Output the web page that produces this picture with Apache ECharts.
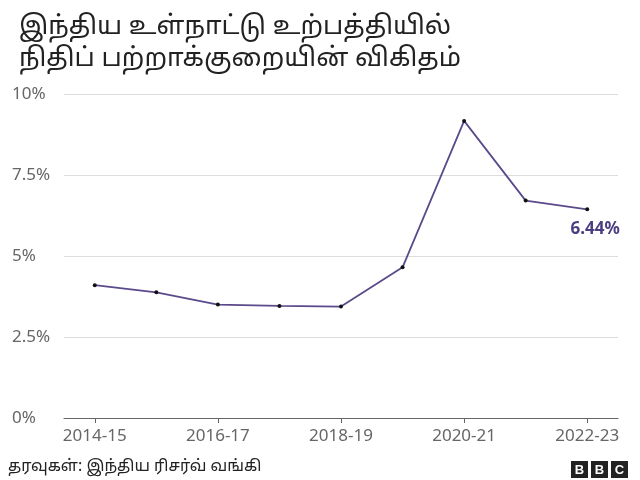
<!DOCTYPE html>
<html><head><meta charset="utf-8">
<script src="https://cdn.jsdelivr.net/npm/echarts@6/dist/echarts.min.js"></script>
<style>html,body{margin:0;padding:0;background:#fff}#c{width:640px;height:480px}</style>
</head><body><div id="c"></div>
<script>
const categories = ['2014-15','2015-16','2016-17','2017-18','2018-19','2019-20','2020-21','2021-22','2022-23'];
const values = [4.1, 3.88, 3.5, 3.46, 3.44, 4.65, 9.17, 6.71, 6.44];
const yTicks = [0, 2.5, 5, 7.5, 10];
const titleLines = ['இந்திய உள்நாட்டு உற்பத்தியில்', 'நிதிப் பற்றாக்குறையின் விகிதம்'];
const sourceText = 'தரவுகள்: இந்திய ரிசர்வ் வங்கி';
const chart = echarts.init(document.getElementById('c'));
const font = 'Noto Sans, Noto Sans Tamil, sans-serif';
const lastIdx = values.length - 1;
chart.setOption({
  animation:false,
  title:{text:titleLines.join('\n'),left:14,top:6,textStyle:{fontFamily:font,fontSize:26,fontWeight:'normal',color:'#222',lineHeight:32}},
  grid:{left:64,right:22,top:94,bottom:62},
  xAxis:{type:'category',data:categories,boundaryGap:true,
    axisLine:{lineStyle:{color:'#666'}},axisTick:{show:true,alignWithLabel:true,length:5,lineStyle:{color:'#666'}},
    axisLabel:{interval:1,color:'#666',fontSize:17,fontFamily:font,margin:10}},
  yAxis:{type:'value',min:0,max:10,interval:2.5,
    axisLine:{show:false},axisTick:{show:false},
    splitLine:{lineStyle:{color:'#ddd'}},
    axisLabel:{align:'left',margin:52,verticalAlign:'middle',color:'#666',fontSize:17,fontFamily:font,
      formatter:v=>(yTicks.includes(v)?v+'%':'')}},
  series:[{type:'line',data:values.map((v,i)=>i===lastIdx?{value:v,label:{show:true,position:'bottom',offset:[8,4],formatter:'6.44%',color:'#4b3d80',fontWeight:'bold',fontSize:17,fontFamily:font}}:v),
    symbol:'circle',symbolSize:4,
    lineStyle:{color:'#5b4a8b',width:1.8},itemStyle:{color:'#111'}}],
  graphic:[
    {type:'text',left:8,top:458,style:{text:sourceText,fontSize:16,fill:'#222',fontFamily:font}},
    {type:'group',right:12,top:461,children:[
      {type:'rect',shape:{x:0,y:0,width:17,height:17},style:{fill:'#222'}},
      {type:'text',x:8.5,y:9,style:{text:'B',fill:'#fff',fontSize:13,fontWeight:'bold',align:'center',verticalAlign:'middle',fontFamily:'Liberation Sans'}},
      {type:'rect',shape:{x:20,y:0,width:17,height:17},style:{fill:'#222'}},
      {type:'text',x:28.5,y:9,style:{text:'B',fill:'#fff',fontSize:13,fontWeight:'bold',align:'center',verticalAlign:'middle',fontFamily:'Liberation Sans'}},
      {type:'rect',shape:{x:40,y:0,width:17,height:17},style:{fill:'#222'}},
      {type:'text',x:48.5,y:9,style:{text:'C',fill:'#fff',fontSize:13,fontWeight:'bold',align:'center',verticalAlign:'middle',fontFamily:'Liberation Sans'}}
    ]}
  ]
});
</script></body></html>
